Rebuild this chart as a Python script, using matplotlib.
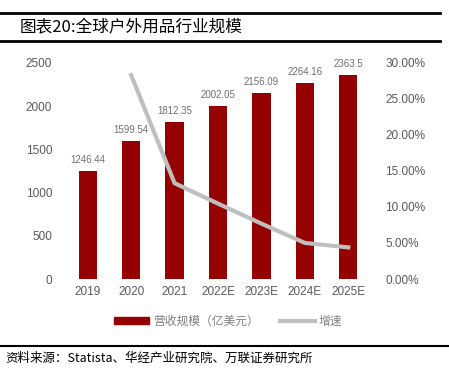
import matplotlib.pyplot as plt
from matplotlib.lines import Line2D

plt.rcParams['font.family'] = ['Noto Sans CJK SC', 'DejaVu Sans']

years = ['2019', '2020', '2021', '2022E', '2023E', '2024E', '2025E']
revenue = [1246.44, 1599.54, 1812.35, 2002.05, 2156.09, 2264.16, 2363.5]
growth_years = ['2020', '2021', '2022E', '2023E', '2024E', '2025E']
growth = [28.33, 13.31, 10.47, 7.69, 5.01, 4.39]
revenue_labels = ['1246.44', '1599.54', '1812.35', '2002.05', '2156.09', '2264.16', '2363.5']

W, H = 449, 377
fig = plt.figure(figsize=(W / 100, H / 100), dpi=100)

# header / footer rules
fig.add_artist(Line2D([0, 440 / W], [1 - 13 / H] * 2, color='black', lw=2))
fig.add_artist(Line2D([0, 440 / W], [1 - 41 / H] * 2, color='black', lw=2))
fig.add_artist(Line2D([0, 449 / W], [1 - 346 / H] * 2, color='black', lw=1.5))
fig.text(20 / W, 1 - 28 / H, '图表20:全球户外用品行业规模', fontsize=12,
         va='center', ha='left', color='black')
fig.text(5 / W, 1 - 358 / H, '资料来源：Statista、华经产业研究院、万联证券研究所',
         fontsize=9, style='italic', va='center', ha='left', color='black')

num_font = ['Liberation Sans', 'DejaVu Sans']
ax = fig.add_axes([66 / W, 1 - 279 / H, 304 / W, 216 / H])
x = list(range(len(years)))
red = '#950000'
gray = '#bfbfbf'
ax.bar(x, revenue, width=0.42, color=red, zorder=2)
for xi, v, lab in zip(x, revenue, revenue_labels):
    ax.text(xi, v + 70, lab, ha='center', va='bottom', fontsize=7,
            color='#707070', family=num_font)
ax.set_xlim(-0.5, len(years) - 0.5)
ax.set_ylim(0, 2500)
ax.set_yticks(range(0, 2501, 500))
ax.set_xticks(x)
ax.set_xticklabels(years)
for s in ax.spines.values():
    s.set_visible(False)
ax.tick_params(length=0, colors='#595959', labelsize=8.5)
ax.tick_params(axis='y', pad=10)
ax.tick_params(axis='x', pad=5)

ax2 = ax.twinx()
gx = [years.index(y) for y in growth_years]
ax2.plot(gx, growth, color=gray, lw=3, zorder=3)
ax2.set_ylim(0, 30)
ax2.set_yticks(range(0, 31, 5))
ax2.set_yticklabels(['%d.00%%' % t for t in range(0, 31, 5)])
for s in ax2.spines.values():
    s.set_visible(False)
ax2.tick_params(length=0, colors='#595959', labelsize=8.5, pad=11)

for lbl in ax.get_xticklabels() + ax.get_yticklabels() + ax2.get_yticklabels():
    lbl.set_family(num_font)

handles = [plt.Rectangle((0, 0), 1, 1, color=red),
           Line2D([0], [0], color=gray, lw=3)]
fig.legend(handles, ['营收规模（亿美元）', '增速'], loc='center',
           bbox_to_anchor=(228 / W, 1 - 321 / H), ncol=2, frameon=False,
           fontsize=8.5, labelcolor='#808080', handlelength=3.0,
           handleheight=0.5, columnspacing=1.8, handletextpad=0.3)

fig.savefig('out.png', dpi=100)
